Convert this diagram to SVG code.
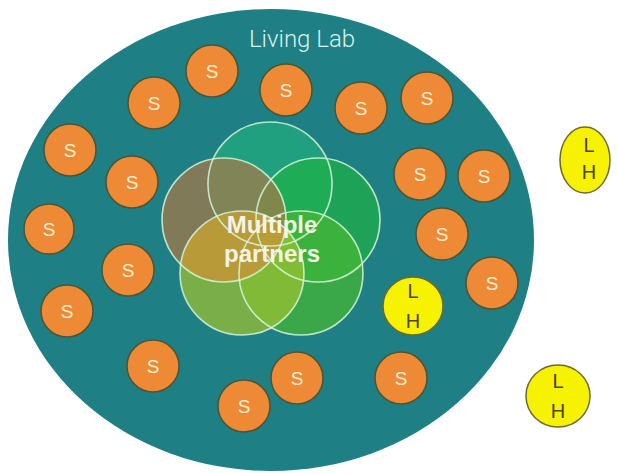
<svg xmlns="http://www.w3.org/2000/svg" width="618" height="474" viewBox="0 0 618 474">
<style>
.s circle{fill:#ee8a36;stroke:#4f5530;stroke-width:1.5}
.s text{font-family:"Liberation Sans",Arial,sans-serif;font-size:19px;fill:#fcefd6;text-anchor:middle}
.lh ellipse{fill:#f6f200;stroke:#6e6a2a;stroke-width:1.5}
.lh text{font-family:"Liberation Sans",Arial,sans-serif;font-size:20px;fill:#4a4420;text-anchor:middle}
.vf{opacity:0.7}
.vs{fill:none;stroke:#d6f4d8;stroke-width:1.6;opacity:0.85}
</style>
<defs>
<clipPath id="clipLeft"><circle cx="224" cy="220" r="62"/></clipPath>
</defs>
<rect width="618" height="474" fill="#ffffff"/>
<g id="living-lab">
<ellipse cx="271" cy="240" rx="263" ry="231" fill="#1e7f84"/>
<text x="302" y="47" font-family="Roboto,'Liberation Sans',sans-serif" font-weight="300" font-size="24" fill="#d9f2ea" text-anchor="middle">Living Lab</text>
</g>
<g id="partners">
<circle class="vf" cx="270" cy="184" r="62" fill="#21ae7e"/>
<circle class="vf" cx="318" cy="220" r="62" fill="#1eb046"/>
<circle class="vf" cx="301" cy="273" r="62" fill="#46b92f"/>
<circle class="vf" cx="242" cy="273" r="62" fill="#9fc22f"/>
<circle class="vf" cx="224" cy="220" r="62" fill="#a97746"/>
<circle cx="242" cy="273" r="62" fill="#cca731" opacity="0.6" clip-path="url(#clipLeft)"/>
<circle class="vs" cx="270" cy="184" r="62"/>
<circle class="vs" cx="318" cy="220" r="62"/>
<circle class="vs" cx="301" cy="273" r="62"/>
<circle class="vs" cx="242" cy="273" r="62"/>
<circle class="vs" cx="224" cy="220" r="62"/>
<text x="272" y="233" font-family="'Liberation Sans',Arial,sans-serif" font-weight="bold" font-size="24" fill="#f4f4e6" text-anchor="middle">Multiple</text>
<text x="272" y="262" font-family="'Liberation Sans',Arial,sans-serif" font-weight="bold" font-size="24" fill="#f4f4e6" text-anchor="middle">partners</text>
</g>
<g id="s1" class="s"><circle cx="212" cy="71" r="26"/><text x="212" y="78">S</text></g>
<g id="s2" class="s"><circle cx="154" cy="103" r="26"/><text x="154" y="110">S</text></g>
<g id="s3" class="s"><circle cx="286" cy="90" r="26"/><text x="286" y="97">S</text></g>
<g id="s4" class="s"><circle cx="361" cy="108" r="26"/><text x="361" y="115">S</text></g>
<g id="s5" class="s"><circle cx="427" cy="98" r="26"/><text x="427" y="105">S</text></g>
<g id="s6" class="s"><circle cx="70" cy="150" r="26"/><text x="70" y="157">S</text></g>
<g id="s7" class="s"><circle cx="132" cy="182" r="26"/><text x="132" y="189">S</text></g>
<g id="s8" class="s"><circle cx="420" cy="174" r="26"/><text x="420" y="181">S</text></g>
<g id="s9" class="s"><circle cx="484" cy="176" r="26"/><text x="484" y="183">S</text></g>
<g id="s10" class="s"><circle cx="49" cy="229" r="25"/><text x="49" y="236">S</text></g>
<g id="s11" class="s"><circle cx="442" cy="234" r="26"/><text x="442" y="241">S</text></g>
<g id="s12" class="s"><circle cx="128" cy="270" r="26"/><text x="128" y="277">S</text></g>
<g id="s13" class="s"><circle cx="492" cy="283" r="26"/><text x="492" y="290">S</text></g>
<g id="s14" class="s"><circle cx="67" cy="311" r="26"/><text x="67" y="318">S</text></g>
<g id="s15" class="s"><circle cx="153" cy="366" r="26"/><text x="153" y="373">S</text></g>
<g id="s16" class="s"><circle cx="297" cy="378" r="26"/><text x="297" y="385">S</text></g>
<g id="s17" class="s"><circle cx="401" cy="378" r="26"/><text x="401" y="385">S</text></g>
<g id="s18" class="s"><circle cx="244" cy="406" r="26"/><text x="244" y="413">S</text></g>
<g id="lh1" class="lh"><ellipse cx="413" cy="306" rx="30" ry="29"/><text x="413" y="298">L</text><text x="413" y="328">H</text></g>
<g id="lh2" class="lh"><ellipse cx="585" cy="160" rx="25" ry="33"/><text x="589" y="152">L</text><text x="589" y="179">H</text></g>
<g id="lh3" class="lh"><ellipse cx="558" cy="396" rx="32" ry="31"/><text x="558" y="388">L</text><text x="558" y="418">H</text></g>
</svg>
